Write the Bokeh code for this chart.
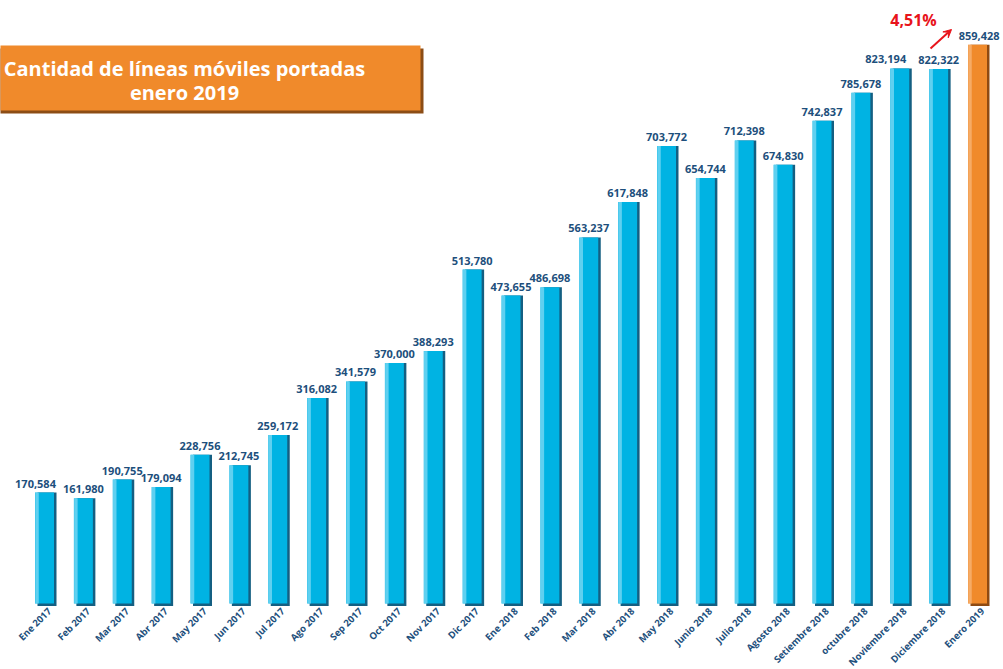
import math
from bokeh.plotting import figure
from bokeh.models import Range1d, ColumnDataSource, BoxAnnotation, Label, Arrow, VeeHead
from bokeh.transform import dodge
from bokeh.core.properties import value
from bokeh.embed import file_html
from bokeh.resources import INLINE

# ---------------- data ----------------
months = ["Ene 2017", "Feb 2017", "Mar 2017", "Abr 2017", "May 2017", "Jun 2017",
          "Jul 2017", "Ago 2017", "Sep 2017", "Oct 2017", "Nov 2017", "Dic 2017",
          "Ene 2018", "Feb 2018", "Mar 2018", "Abr 2018", "May 2018", "Junio 2018",
          "Julio 2018", "Agosto 2018", "Setiembre 2018", "octubre 2018",
          "Noviembre 2018", "Diciembre 2018", "Enero 2019"]
values = [170584, 161980, 190755, 179094, 228756, 212745, 259172, 316082, 341579,
          370000, 388293, 513780, 473655, 486698, 563237, 617848, 703772, 654744,
          712398, 674830, 742837, 785678, 823194, 822322, 859428]
growth_label = "4,51%"
title_lines = ["Cantidad de líneas móviles portadas", "enero 2019"]

# ---------------- layout helpers (page pixel -> data) ----------------
W, H = 1000, 669
OFF = 0
FIRST_PX, STEP_PX = 44.0, 38.875
BASE_PX = 603.0
PX_PER_UNIT = 6.5e-4

def fx(px):
    return (px - FIRST_PX) / STEP_PX

def fy(py):
    return (BASE_PX - py) / PX_PER_UNIT

n = len(months)
BLUE, BLUE_DARK, BLUE_LIGHT = "#00b3e3", "#145f82", "#7fdaf4"
ORANGE, ORANGE_DARK, ORANGE_LIGHT = "#f08a2b", "#8e4a12", "#f8b57a"
NAVY = "#1d4f7c"
RED = "#e8141b"

src = ColumnDataSource(dict(
    x=list(range(n)),
    top=values,
    label=[f"{v:,}" for v in values],
    month=months,
    color=[BLUE] * (n - 1) + [ORANGE],
    dark=[BLUE_DARK] * (n - 1) + [ORANGE_DARK],
    light=[BLUE_LIGHT] * (n - 1) + [ORANGE_LIGHT],
))

p = figure(width=W, height=H, output_backend="svg", toolbar_location=None,
           x_range=Range1d(fx(OFF), fx(OFF + W)), y_range=Range1d(fy(OFF + H), fy(OFF)),
           min_border=0, tools="")
p.xaxis.visible = False
p.yaxis.visible = False
p.grid.visible = False
p.outline_line_color = None
p.background_fill_color = "white"

bw = 19 / STEP_PX
# shadow / dark side
p.vbar(x=dodge("x", 2.5 / STEP_PX), top="top", bottom=fy(BASE_PX + 2.5), width=bw,
       fill_color="dark", line_color=None, source=src)
# main bar
p.vbar(x="x", top="top", bottom=0, width=bw, fill_color="color", line_color=None, source=src)
# left highlight
p.vbar(x=dodge("x", -7.5 / STEP_PX), top="top", bottom=0, width=3.5 / STEP_PX,
       fill_color="light", fill_alpha=0.75, line_color=None, source=src)

LBL = dict(text_font=value("Open Sans"), text_font_style="bold",
           text_font_size="11px", text_color=NAVY, text_baseline="bottom", y_offset=-5)
# value labels: most centred on their bar, a few nudged to avoid overlaps/edge
nudged = {0: -9, n - 3: -14}
idx_c = [i for i in range(n - 1) if i not in nudged]
lab_src = ColumnDataSource(dict(x=idx_c, top=[values[i] for i in idx_c],
                                label=[src.data["label"][i] for i in idx_c]))
p.text(x="x", y="top", text="label", source=lab_src, text_align="center", **LBL)
for i, dx in nudged.items():
    p.text(x=[i], y=[values[i]], text=[src.data["label"][i]], text_align="center",
           x_offset=dx, **LBL)
p.text(x=[n - 1], y=[values[-1]], text=[src.data["label"][-1]], text_align="right",
       x_offset=22, **LBL)

# month labels (rotated)
p.text(x=dodge("x", 5 / STEP_PX), y=fy(609), text="month", source=src, angle=math.pi / 4,
       text_align="right", text_baseline="middle", text_font=value("Open Sans"),
       text_font_style="bold", text_font_size="9.5px", text_color=NAVY)

# title box
p.add_layout(BoxAnnotation(left=fx(-10), right=fx(423), bottom=fy(113), top=fy(48),
                           fill_color="#8c4d16", fill_alpha=1, line_alpha=0))
p.add_layout(BoxAnnotation(left=fx(-10), right=fx(420), bottom=fy(110), top=fy(45),
                           fill_color=ORANGE, fill_alpha=1, line_alpha=0))
for t, py in zip(title_lines, [68, 92]):
    p.add_layout(Label(x=fx(184), y=fy(py), text=t, text_align="center", text_baseline="middle",
                       text_color="white", text_font="Open Sans", text_font_style="bold",
                       text_font_size="20px"))

# growth annotation
p.add_layout(Label(x=fx(913), y=fy(19), text=growth_label, text_align="center",
                   text_baseline="middle", text_color=RED, text_font="Open Sans",
                   text_font_style="bold", text_font_size="16px"))
p.add_layout(Arrow(x_start=fx(930), y_start=fy(48), x_end=fx(951), y_end=fy(29),
                   line_color=RED, line_width=2,
                   end=VeeHead(size=8, fill_color=RED, line_color=RED)))

open("out.html", "w").write(file_html(p, INLINE))
